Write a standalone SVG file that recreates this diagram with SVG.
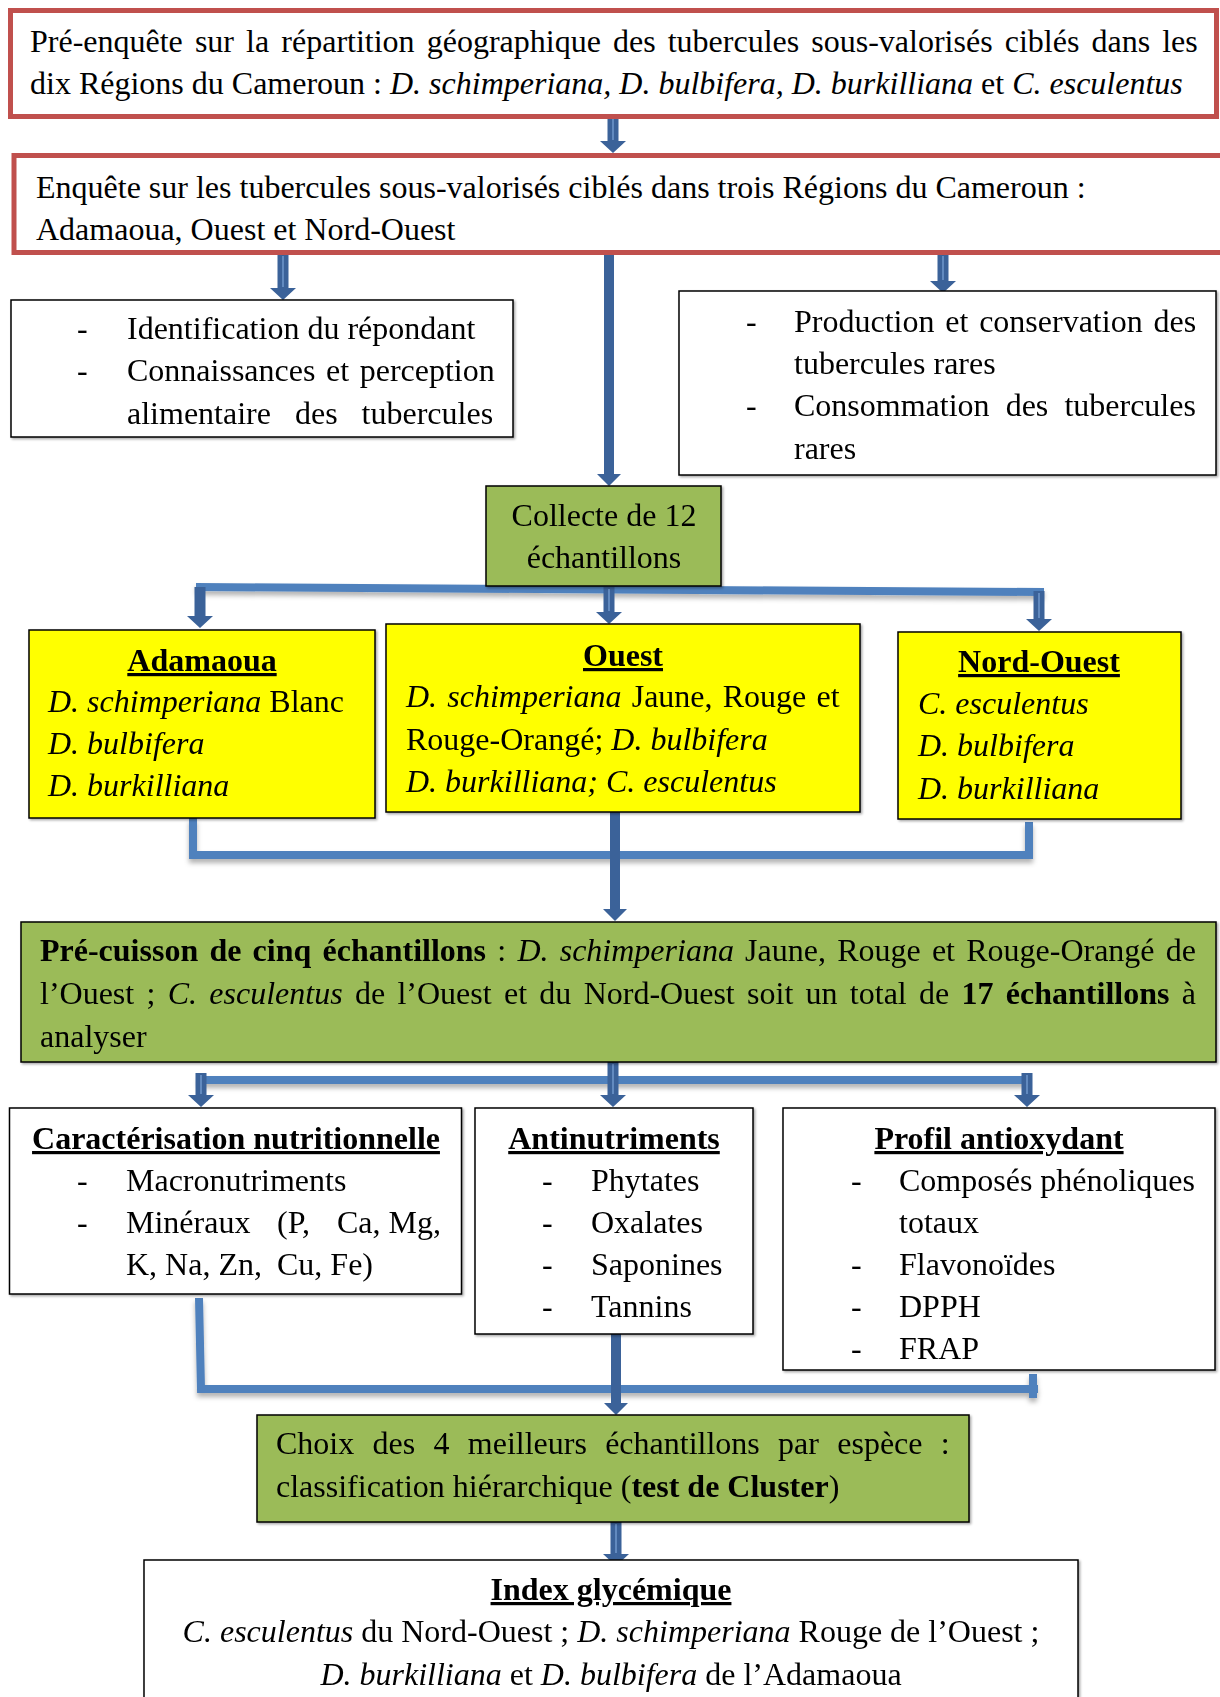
<svg xmlns="http://www.w3.org/2000/svg" width="1220" height="1697" viewBox="0 0 1220 1697">
<defs>
<style>
.t{font-family:"Liberation Serif","Times New Roman",serif;font-size:32px;fill:#000}
.i{font-style:italic}
.b{font-weight:bold}
.u{text-decoration:underline;text-decoration-thickness:2.5px}
.m{text-anchor:middle}
.red{fill:#fff;stroke:#C0504D;stroke-width:5}
.box{fill:#fff;stroke:#000;stroke-width:1.5}
.green{fill:#9BBB59;stroke:#000;stroke-width:1.5}
.yellow{fill:#FFFF00;stroke:#000;stroke-width:1.5}
.arrow{fill:#3B6299}
.hl{stroke:#7099CC;stroke-width:1.5;fill:none}
.bar{fill:none;stroke:#4F81BD;stroke-width:8;stroke-linejoin:miter}
</style>
<filter id="sh" filterUnits="userSpaceOnUse" x="0" y="0" width="1220" height="1697">
<feDropShadow dx="0" dy="4" stdDeviation="2.5" flood-color="#000" flood-opacity="0.3"/>
</filter>
<filter id="bs" filterUnits="userSpaceOnUse" x="0" y="0" width="1220" height="1697">
<feDropShadow dx="1.5" dy="1.5" stdDeviation="1" flood-color="#000" flood-opacity="0.35"/>
</filter>
</defs>
<rect width="1220" height="1697" fill="#fff"/>

<g id="connectors">
<g filter="url(#sh)">
<path class="bar" d="M196 587 L1044 592"/>
<path class="bar" d="M193 818 V855 H1029 V822"/>
<path class="bar" d="M198 1080 H1028"/>
<path class="bar" d="M199 1298 L201 1389 H1038" stroke-width="9"/>
<path class="bar" d="M1033 1374 V1398"/>
</g>
<path class="arrow" d="M607.5 117 H618.5 V141 H626 L613 153 L600 141 H607.5 Z"/>
<path class="hl" d="M613 119 V140"/>
<path class="arrow" d="M277.5 254 H288.5 V288 H296 L283 300 L270 288 H277.5 Z"/>
<path class="hl" d="M283 256 V287"/>
<path class="arrow" d="M604 248 H614 V474 H621 L609 486 L597 474 H604 Z"/>
<path class="arrow" d="M937.5 254 H948.5 V281 H956 L943 293 L930 281 H937.5 Z"/>
<path class="hl" d="M943 256 V280"/>
<path class="arrow" d="M194.5 587 H205.5 V616 H213 L200 628 L187 616 H194.5 Z"/>
<path class="arrow" d="M603.5 587 H614.5 V612 H622 L609 624 L596 612 H603.5 Z"/>
<path class="hl" d="M609 589 V611"/>
<path class="arrow" d="M1033.5 591 H1044.5 V619 H1052 L1039 631 L1026 619 H1033.5 Z"/>
<path class="hl" d="M1039 593 V618"/>
<path class="arrow" d="M610 812 H620 V909 H627 L615 921 L603 909 H610 Z"/>
<path class="arrow" d="M607.5 1062 H618.5 V1095 H626 L613 1107 L600 1095 H607.5 Z"/>
<path class="hl" d="M613 1064 V1094"/>
<path class="arrow" d="M195.5 1073 H206.5 V1095 H214 L201 1107 L188 1095 H195.5 Z"/>
<path class="hl" d="M201 1075 V1094"/>
<path class="arrow" d="M1021.5 1073 H1032.5 V1095 H1040 L1027 1107 L1014 1095 H1021.5 Z"/>
<path class="hl" d="M1027 1075 V1094"/>
<path class="arrow" d="M611 1334 H621 V1403 H628 L616 1415 L604 1403 H611 Z"/>
<path class="arrow" d="M610.5 1522 H621.5 V1554 H629 L616 1566 L603 1554 H610.5 Z"/>
<path class="hl" d="M616 1524 V1553"/>
</g>

<g id="pre-enquete">
<rect class="red" x="10.5" y="10.5" width="1206" height="106"/>
<text class="t" x="30" y="52" word-spacing="4.1">Pré-enquête sur la répartition géographique des tubercules sous-valorisés ciblés dans les</text>
<text class="t" x="30" y="94">dix Régions du Cameroun : <tspan class="i">D. schimperiana, D. bulbifera, D. burkilliana</tspan> et <tspan class="i">C. esculentus</tspan></text>
</g>

<g id="enquete">
<rect class="red" x="14" y="155.5" width="1220" height="97"/>
<text class="t" x="36" y="198">Enquête sur les tubercules sous-valorisés ciblés dans trois Régions du Cameroun :</text>
<text class="t" x="36" y="240">Adamaoua, Ouest et Nord-Ouest</text>
</g>

<g id="identification" filter="url(#bs)">
<rect class="box" x="11" y="300" width="502" height="137"/>
<text class="t" x="77" y="339">-</text>
<text class="t" x="127" y="339">Identification du répondant</text>
<text class="t" x="77" y="381">-</text>
<text class="t" x="127" y="381" word-spacing="2.6">Connaissances et perception</text>
<text class="t" x="127" y="424" word-spacing="16">alimentaire des tubercules</text>
</g>

<g id="production" filter="url(#bs)">
<rect class="box" x="679" y="291" width="537" height="184"/>
<text class="t" x="746" y="332">-</text>
<text class="t" x="794" y="332" word-spacing="2.8">Production et conservation des</text>
<text class="t" x="794" y="374">tubercules rares</text>
<text class="t" x="746" y="416">-</text>
<text class="t" x="794" y="416" word-spacing="8.1">Consommation des tubercules</text>
<text class="t" x="794" y="459">rares</text>
</g>

<g id="collecte" filter="url(#bs)">
<rect class="green" x="486" y="486" width="235" height="100"/>
<text class="t m" x="604" y="526">Collecte de 12</text>
<text class="t m" x="604" y="568">échantillons</text>
</g>

<g id="adamaoua" filter="url(#bs)">
<rect class="yellow" x="29" y="630" width="346" height="188"/>
<text class="t b u m" x="202" y="671">Adamaoua</text>
<text class="t" x="48" y="712"><tspan class="i">D. schimperiana</tspan> Blanc</text>
<text class="t i" x="48" y="754">D. bulbifera</text>
<text class="t i" x="48" y="796">D. burkilliana</text>
</g>

<g id="ouest" filter="url(#bs)">
<rect class="yellow" x="386" y="624" width="474" height="188"/>
<text class="t b u m" x="623" y="666">Ouest</text>
<text class="t" x="406" y="707" word-spacing="2.2"><tspan class="i">D. schimperiana</tspan> Jaune, Rouge et</text>
<text class="t" x="406" y="750">Rouge-Orangé; <tspan class="i">D. bulbifera</tspan></text>
<text class="t i" x="406" y="792">D. burkilliana; C. esculentus</text>
</g>

<g id="nord-ouest" filter="url(#bs)">
<rect class="yellow" x="898" y="632" width="283" height="187"/>
<text class="t b u m" x="1039" y="672">Nord-Ouest</text>
<text class="t i" x="918" y="714">C. esculentus</text>
<text class="t i" x="918" y="756">D. bulbifera</text>
<text class="t i" x="918" y="799">D. burkilliana</text>
</g>

<g id="pre-cuisson" filter="url(#bs)">
<rect class="green" x="21" y="922" width="1195" height="140"/>
<text class="t" x="40" y="961" word-spacing="3.2"><tspan class="b">Pré-cuisson de cinq échantillons</tspan> : <tspan class="i">D. schimperiana</tspan> Jaune, Rouge et Rouge-Orangé de</text>
<text class="t" x="40" y="1004" word-spacing="4.3">l’Ouest ; <tspan class="i">C. esculentus</tspan> de l’Ouest et du Nord-Ouest soit un total de <tspan class="b">17 échantillons</tspan> à</text>
<text class="t" x="40" y="1047">analyser</text>
</g>

<g id="caracterisation" filter="url(#bs)">
<rect class="box" x="9.5" y="1108" width="452" height="186"/>
<text class="t b u m" x="236" y="1149">Caractérisation nutritionnelle</text>
<text class="t" x="77" y="1191">-</text>
<text class="t" x="126" y="1191">Macronutriments</text>
<text class="t" x="77" y="1233">-</text>
<text class="t" x="126" y="1233">Minéraux</text>
<text class="t" x="277" y="1233">(P,</text>
<text class="t" x="441" y="1233" text-anchor="end">Ca, Mg,</text>
<text class="t" x="126" y="1275">K, Na, Zn,</text>
<text class="t" x="277" y="1275">Cu, Fe)</text>
</g>

<g id="antinutriments" filter="url(#bs)">
<rect class="box" x="475" y="1108" width="278" height="226"/>
<text class="t b u m" x="614" y="1149">Antinutriments</text>
<text class="t" x="542" y="1191">-</text>
<text class="t" x="591" y="1191">Phytates</text>
<text class="t" x="542" y="1233">-</text>
<text class="t" x="591" y="1233">Oxalates</text>
<text class="t" x="542" y="1275">-</text>
<text class="t" x="591" y="1275">Saponines</text>
<text class="t" x="542" y="1317">-</text>
<text class="t" x="591" y="1317">Tannins</text>
</g>

<g id="antioxydant" filter="url(#bs)">
<rect class="box" x="783" y="1108" width="432" height="262"/>
<text class="t b u m" x="999" y="1149">Profil antioxydant</text>
<text class="t" x="851" y="1191">-</text>
<text class="t" x="899" y="1191">Composés phénoliques</text>
<text class="t" x="899" y="1233">totaux</text>
<text class="t" x="851" y="1275">-</text>
<text class="t" x="899" y="1275">Flavonoïdes</text>
<text class="t" x="851" y="1317">-</text>
<text class="t" x="899" y="1317">DPPH</text>
<text class="t" x="851" y="1359">-</text>
<text class="t" x="899" y="1359">FRAP</text>
</g>

<g id="choix" filter="url(#bs)">
<rect class="green" x="257" y="1415" width="712" height="107"/>
<text class="t" x="276" y="1454" word-spacing="10.3">Choix des 4 meilleurs échantillons par espèce :</text>
<text class="t" x="276" y="1497">classification hiérarchique (<tspan class="b">test de Cluster</tspan>)</text>
</g>

<g id="index" filter="url(#bs)">
<rect class="box" x="144" y="1560" width="934" height="160"/>
<text class="t b u m" x="611" y="1600">Index glycémique</text>
<text class="t m" x="611" y="1642"><tspan class="i">C. esculentus</tspan> du Nord-Ouest ; <tspan class="i">D. schimperiana</tspan> Rouge de l’Ouest ;</text>
<text class="t m" x="611" y="1685"><tspan class="i">D. burkilliana</tspan> et <tspan class="i">D. bulbifera</tspan> de l’Adamaoua</text>
</g>
</svg>
